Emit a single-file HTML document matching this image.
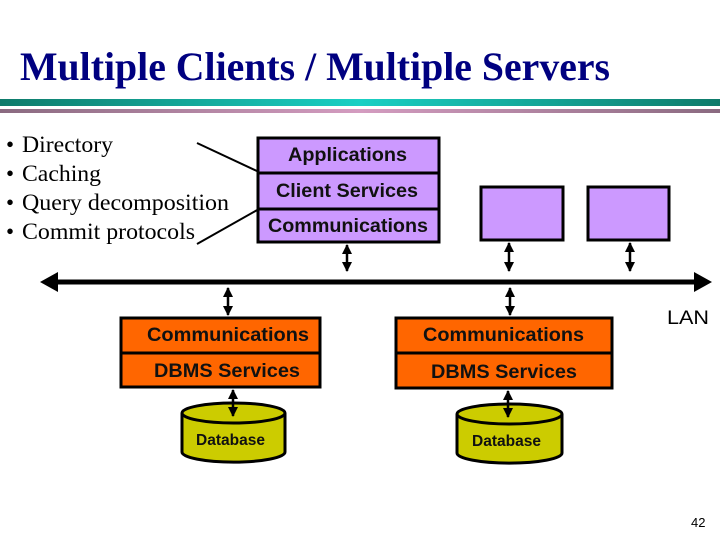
<!DOCTYPE html>
<html><head><meta charset="utf-8"><style>
html,body{margin:0;padding:0;background:#fff;width:720px;height:540px;overflow:hidden}
</style></head><body>
<svg width="720" height="540" viewBox="0 0 720 540" xmlns="http://www.w3.org/2000/svg">
<defs>
<linearGradient id="tg" x1="0" x2="1"><stop offset="0" stop-color="#0e7a6a"/><stop offset="0.5" stop-color="#1ad0c4"/><stop offset="1" stop-color="#0e7a6a"/></linearGradient>
<linearGradient id="mg" x1="0" x2="1"><stop offset="0" stop-color="#8a6a80"/><stop offset="0.5" stop-color="#d49cc0"/><stop offset="1" stop-color="#8a6a80"/></linearGradient>
<marker id="ah" viewBox="0 0 10 10" refX="9" refY="5" markerWidth="4" markerHeight="4" orient="auto-start-reverse"><path d="M0,0 L10,5 L0,10 z" fill="#000"/></marker>
</defs>
<text x="20" y="80" font-family="Liberation Serif, serif" font-weight="bold" font-size="40" fill="#000080" textLength="590" lengthAdjust="spacingAndGlyphs">Multiple Clients / Multiple Servers</text>
<rect x="0" y="99" width="720" height="7" fill="url(#tg)"/>
<rect x="0" y="109" width="720" height="4" fill="url(#mg)"/>
<g font-family="Liberation Serif, serif" font-size="23" fill="#000">
<text x="6" y="152">•</text><text x="22" y="152" textLength="91" lengthAdjust="spacingAndGlyphs">Directory</text>
<text x="6" y="181">•</text><text x="22" y="181" textLength="79" lengthAdjust="spacingAndGlyphs">Caching</text>
<text x="6" y="210">•</text><text x="22" y="210" textLength="207" lengthAdjust="spacingAndGlyphs">Query decomposition</text>
<text x="6" y="239">•</text><text x="22" y="239" textLength="173" lengthAdjust="spacingAndGlyphs">Commit protocols</text>
</g>
<line x1="197" y1="143" x2="259" y2="172" stroke="#000" stroke-width="2"/>
<line x1="197" y1="244" x2="259" y2="209" stroke="#000" stroke-width="2"/>
<g stroke="#000" stroke-width="3" fill="#cc99ff">
<rect x="258" y="138" width="181" height="35"/>
<rect x="258" y="173" width="181" height="36"/>
<rect x="258" y="209" width="181" height="33"/>
<rect x="481" y="187" width="82" height="53"/>
<rect x="588" y="187" width="81" height="53"/>
</g>
<g font-family="Liberation Sans, sans-serif" font-weight="bold" font-size="19" fill="#111">
<text x="288" y="161" textLength="119" lengthAdjust="spacingAndGlyphs">Applications</text>
<text x="276" y="197" textLength="142" lengthAdjust="spacingAndGlyphs">Client Services</text>
<text x="268" y="232" textLength="160" lengthAdjust="spacingAndGlyphs">Communications</text>
</g>
<line x1="52" y1="282" x2="700" y2="282" stroke="#000" stroke-width="5"/>
<path d="M40,282 L58,272 L58,292 z" fill="#000"/>
<path d="M712,282 L694,272 L694,292 z" fill="#000"/>
<g stroke="#000" stroke-width="2.5" marker-start="url(#ah)" marker-end="url(#ah)">
<line x1="347" y1="245" x2="347" y2="271"/>
<line x1="509" y1="243" x2="509" y2="271"/>
<line x1="630" y1="243" x2="630" y2="271"/>
<line x1="228" y1="288" x2="228" y2="315"/>
<line x1="510" y1="288" x2="510" y2="315"/>
</g>
<g stroke="#000" stroke-width="3" fill="#ff6600">
<rect x="121" y="318" width="199" height="35"/>
<rect x="121" y="353" width="199" height="34"/>
<rect x="396" y="318" width="216" height="35"/>
<rect x="396" y="353" width="216" height="35"/>
</g>
<g font-family="Liberation Sans, sans-serif" font-weight="bold" font-size="19" fill="#111">
<text x="147" y="341" textLength="162" lengthAdjust="spacingAndGlyphs">Communications</text>
<text x="154" y="377" textLength="146" lengthAdjust="spacingAndGlyphs">DBMS Services</text>
<text x="423" y="341" textLength="161" lengthAdjust="spacingAndGlyphs">Communications</text>
<text x="431" y="378" textLength="146" lengthAdjust="spacingAndGlyphs">DBMS Services</text>
</g>
<g stroke="#000" stroke-width="3" fill="#cccc00">
<path d="M182,413 L182,452 A51,10 0 0 0 285,452 L285,413"/>
<ellipse cx="233.5" cy="413" rx="51.5" ry="10"/>
<path d="M457,414 L457,453 A52,10 0 0 0 562,453 L562,414"/>
<ellipse cx="509.5" cy="414" rx="52.5" ry="10"/>
</g>
<g stroke="#000" stroke-width="2.5" marker-start="url(#ah)" marker-end="url(#ah)">
<line x1="233" y1="390" x2="233" y2="416"/>
<line x1="508" y1="391" x2="508" y2="417"/>
</g>
<g font-family="Liberation Sans, sans-serif" font-weight="bold" font-size="16" fill="#111">
<text x="196" y="445" textLength="69" lengthAdjust="spacingAndGlyphs">Database</text>
<text x="472" y="446" textLength="69" lengthAdjust="spacingAndGlyphs">Database</text>
</g>
<text x="667" y="324" font-family="Liberation Sans, sans-serif" font-size="19" fill="#000" textLength="42" lengthAdjust="spacingAndGlyphs">LAN</text>
<text x="691" y="527" font-family="Liberation Sans, sans-serif" font-size="13" fill="#000">42</text>
</svg>
</body></html>
